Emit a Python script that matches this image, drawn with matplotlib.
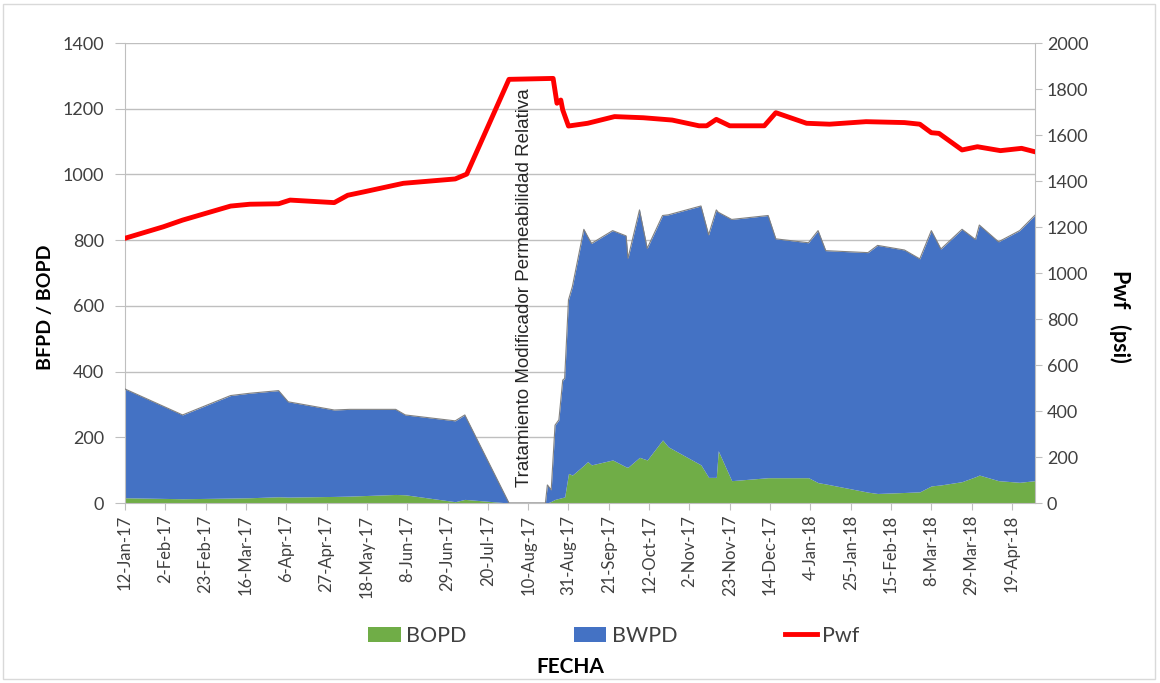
import matplotlib
matplotlib.use("Agg")
import matplotlib.pyplot as plt
import matplotlib.dates as mdates
from matplotlib.patches import Rectangle, Patch
from matplotlib.lines import Line2D
import pandas as pd

# ---------------- data ----------------
area_dates = ["2017-01-12", "2017-02-11", "2017-03-08", "2017-03-18", "2017-04-02", "2017-04-07",
              "2017-05-01", "2017-05-09", "2017-06-02", "2017-06-07", "2017-07-03", "2017-07-08",
              "2017-07-31", "2017-08-19", "2017-08-20", "2017-08-22", "2017-08-24", "2017-08-26",
              "2017-08-28", "2017-08-29", "2017-08-31", "2017-09-02", "2017-09-08", "2017-09-10",
              "2017-09-12", "2017-09-23", "2017-09-30", "2017-10-01", "2017-10-07", "2017-10-11",
              "2017-10-19", "2017-10-22", "2017-11-08", "2017-11-12", "2017-11-16", "2017-11-17",
              "2017-11-24", "2017-12-13", "2017-12-17", "2018-01-03", "2018-01-08", "2018-01-12",
              "2018-02-03", "2018-02-08", "2018-02-22", "2018-03-02", "2018-03-08", "2018-03-13",
              "2018-03-24", "2018-03-31", "2018-04-02", "2018-04-12", "2018-04-23", "2018-05-01"]
bfpd = [347, 268, 327, 334, 342, 308,
        283, 285, 285, 268, 250, 268,
        0, 0, 55, 40, 237, 253,
        374, 379, 618, 658, 833, 811,
        790, 829, 813, 745, 892, 775,
        875, 877, 904, 816, 892, 885,
        863, 875, 804, 792, 829, 768,
        762, 784, 770, 743, 829, 773,
        833, 802, 846, 795, 829, 876]
bopd = [16, 13, 15, 16, 19, 18,
        20, 21, 26, 25, 4, 11,
        0, 0, 0, 5, 11, 14,
        17, 18, 90, 85, 115, 126,
        116, 131, 110, 109, 139, 131,
        192, 171, 116, 78, 78, 159,
        68, 77, 77, 77, 62, 58,
        33, 29, 32, 34, 52, 55,
        65, 80, 85, 68, 63, 68]
bwpd = [t - o for t, o in zip(bfpd, bopd)]

pwf_dates = ["2017-01-12", "2017-02-01", "2017-02-11", "2017-03-08", "2017-03-18", "2017-04-02",
             "2017-04-08", "2017-05-01", "2017-05-08", "2017-05-16", "2017-06-01", "2017-06-06",
             "2017-07-03", "2017-07-09", "2017-07-31", "2017-08-23", "2017-08-25", "2017-08-27",
             "2017-08-28", "2017-08-31", "2017-09-10", "2017-09-24", "2017-10-09", "2017-10-24",
             "2017-11-07", "2017-11-11", "2017-11-16", "2017-11-23", "2017-12-11", "2017-12-17",
             "2018-01-02", "2018-01-14", "2018-02-02", "2018-02-22", "2018-03-02", "2018-03-08",
             "2018-03-12", "2018-03-24", "2018-04-01", "2018-04-13", "2018-04-24", "2018-05-01"]
pwf = [1151, 1201, 1230, 1291, 1299, 1301,
       1317, 1306, 1338, 1352, 1381, 1390,
       1409, 1430, 1842, 1846, 1738, 1752,
       1709, 1639, 1651, 1680, 1675, 1665,
       1640, 1640, 1668, 1640, 1640, 1697,
       1651, 1647, 1658, 1654, 1647, 1610,
       1607, 1535, 1549, 1532, 1542, 1527]

left_ticks = [0, 200, 400, 600, 800, 1000, 1200, 1400]
right_ticks = [0, 200, 400, 600, 800, 1000, 1200, 1400, 1600, 1800, 2000]
annotation = "Tratamiento Modificador Permeabilidad Relativa"
annotation_date = "2017-08-08"

# ---------------- plot ----------------
ad = pd.to_datetime(area_dates)
pd_ = pd.to_datetime(pwf_dates)

GREEN = "#70AD47"
BLUE = "#4472C4"
RED = "#FF0000"
TXT = "#404040"
GRID = "#BFBFBF"

plt.rcParams["font.family"] = ["Lato", "DejaVu Sans"]

fig = plt.figure(figsize=(11.6, 6.83), dpi=100)
ax = fig.add_axes([125 / 1160, 1 - 503 / 683, (1035 - 125) / 1160, (503 - 43) / 683])

ax.fill_between(ad, 0, bopd, color=GREEN, linewidth=0, zorder=2)
ax.fill_between(ad, bopd, bfpd, color=BLUE, linewidth=0, zorder=2)
ax.plot(ad, bfpd, color="#808080", linewidth=0.8, zorder=3)

ax.set_ylim(0, 1400)
ax.set_yticks(left_ticks)
ax.set_xlim(ad[0], ad[-1])
ticks = pd.date_range(ad[0], ad[-1], freq="21D")
ax.set_xticks(ticks)
ax.xaxis.set_major_formatter(plt.FuncFormatter(
    lambda v, p: (lambda d: f"{d.day}-{d.strftime('%b-%y')}")(mdates.num2date(v))))
ax.tick_params(axis="x", rotation=90, labelsize=12, colors=TXT, length=5, color=GRID)
ax.tick_params(axis="y", labelsize=13, colors=TXT, length=7, color=GRID, pad=8)
ax.grid(axis="y", color=GRID, linewidth=1, zorder=0)
ax.set_axisbelow(True)
for s in ["top", "right"]:
    ax.spines[s].set_visible(False)
for s in ["left", "bottom"]:
    ax.spines[s].set_color(GRID)

ax.text(pd.Timestamp(annotation_date), 50, annotation, rotation=90, ha="center", va="bottom",
        fontsize=13.5, color="#262626", family=["Liberation Sans", "DejaVu Sans"], zorder=5)

ax2 = ax.twinx()
ax2.plot(pd_, pwf, color=RED, linewidth=3.5, zorder=4)
ax2.set_ylim(0, 2000)
ax2.set_yticks(right_ticks)
ax2.tick_params(axis="y", labelsize=13, colors=TXT, length=5, color=GRID)
for s in ["top", "left", "bottom"]:
    ax2.spines[s].set_visible(False)
ax2.spines["right"].set_color(GRID)

fig.text(45 / 1160, 1 - 307 / 683, "BFPD / BOPD", rotation=90, ha="center", va="center",
         fontsize=14, fontweight="bold", color="black")
fig.text(1120 / 1160, 1 - 316 / 683, "Pwf   (psi)", rotation=-90, ha="center", va="center",
         fontsize=15.5, fontweight="bold", color="black")
fig.text(570 / 1160, 1 - 667 / 683, "FECHA", ha="center", va="center",
         fontsize=15, fontweight="bold", color="black")

handles = [Patch(facecolor=GREEN, edgecolor="none"), Patch(facecolor=BLUE, edgecolor="none"),
           Line2D([0], [0], color=RED, linewidth=3.5)]
fig.legend(handles, ["BOPD", "BWPD", "Pwf"], ncol=3, loc="center",
           bbox_to_anchor=(614 / 1160, 1 - 636 / 683), frameon=False, fontsize=15.5,
           handlelength=1.5, handletextpad=0.25, columnspacing=5.0, labelcolor=TXT)

fig.patches.append(Rectangle((0.003, 0.006), 0.993, 0.988, transform=fig.transFigure,
                             fill=False, edgecolor="#D9D9D9", linewidth=1))

fig.savefig("out.png", dpi=100)
